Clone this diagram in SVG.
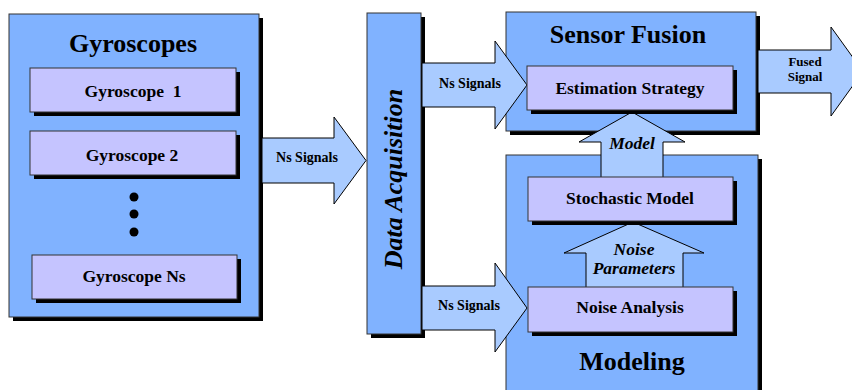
<svg xmlns="http://www.w3.org/2000/svg" width="852" height="390" viewBox="0 0 852 390">
<style>
.big{fill:#80b2ff;stroke:#333;stroke-width:1}
.inner{fill:#c5c4ff;stroke:#333;stroke-width:1}
.sh{fill:#000}
.arr{fill:#a9cbff;stroke:#000;stroke-width:1;stroke-linejoin:miter}
text{font-family:'Liberation Serif','Times New Roman',serif;font-weight:bold;fill:#000;text-anchor:middle}
.title{font-size:26px}
.lbl{font-size:17.5px}
.sig{font-size:14px}
.sm{font-size:13px}
.it{font-style:italic}
</style>
<rect width="852" height="390" fill="#fff"/>

<g id="gyroscopes">
  <rect class="sh" x="13" y="18" width="250" height="303"/>
  <rect class="big" x="9" y="14" width="250" height="303"/>
  <text class="title" x="133" y="52">Gyroscopes</text>
</g>
<g id="gyro1">
  <rect class="sh" x="34" y="72" width="206" height="44"/>
  <rect class="inner" x="30" y="68" width="206" height="44"/>
  <text class="lbl" x="133" y="97" style="white-space:pre">Gyroscope  1</text>
</g>
<g id="gyro2">
  <rect class="sh" x="34" y="135" width="206" height="44"/>
  <rect class="inner" x="30" y="131" width="206" height="44"/>
  <text class="lbl" x="132" y="161">Gyroscope 2</text>
</g>
<g id="dots">
  <circle cx="134" cy="197" r="4.5"/>
  <circle cx="134" cy="214" r="4.5"/>
  <circle cx="134" cy="232" r="4.5"/>
</g>
<g id="gyroNs">
  <rect class="sh" x="36" y="259" width="205" height="44"/>
  <rect class="inner" x="32" y="255" width="205" height="44"/>
  <text class="lbl" x="134" y="282">Gyroscope Ns</text>
</g>

<g id="data-acquisition">
  <rect class="sh" x="371" y="17" width="54" height="321"/>
  <rect class="big" x="367" y="13" width="54" height="321"/>
  <text class="title it" transform="translate(402,179) rotate(-90)">Data Acquisition</text>
</g>

<g id="sensor-fusion">
  <rect class="sh" x="510" y="16" width="250" height="119"/>
  <rect class="big" x="506" y="12" width="250" height="119"/>
  <text class="title" x="628" y="43">Sensor Fusion</text>
</g>

<g id="modeling">
  <rect class="sh" x="510" y="159" width="252" height="240"/>
  <rect class="big" x="506" y="155" width="252" height="240"/>
  <text class="title" x="632" y="370">Modeling</text>
</g>

<g id="connectors">
  <g id="arrow-gyro-da">
    <path class="arr" d="M262,138 H334 V117 L366,160.5 L334,204 V183 H262 Z"/>
    <text class="sig" x="307" y="162">Ns Signals</text>
  </g>
  <g id="arrow-da-est">
    <path class="arr" d="M422,63 H495 V41 L527,85 L495,129 V107 H422 Z"/>
    <text class="sig" x="470" y="88">Ns Signals</text>
  </g>
  <g id="arrow-da-noise">
    <path class="arr" d="M422,286 H495 V263 L527,308 L495,352 V330 H422 Z"/>
    <text class="sig" x="469" y="310">Ns Signals</text>
  </g>
  <g id="arrow-fused">
    <path class="arr" d="M758,50 H831 V27 L863,71.5 L831,116 V93 H758 Z"/>
    <text class="sig sm" x="805" y="66">Fused</text>
    <text class="sig sm" x="805" y="81">Signal</text>
  </g>
  <g id="arrow-model">
    <path class="arr" d="M601,177 V142 H579 L632,112 L685,142 H663 V177"/>
    <text class="lbl it" x="632" y="149">Model</text>
  </g>
  <g id="arrow-noise-params">
    <path class="arr" d="M586,287 V253 H564 L633,222 L704,253 H683 V287"/>
    <text class="lbl it" x="634" y="255">Noise</text>
    <text class="lbl it" x="634" y="274">Parameters</text>
  </g>
</g>

<g id="estimation">
  <rect class="sh" x="531" y="70" width="206" height="44"/>
  <rect class="inner" x="527" y="66" width="206" height="44"/>
  <text class="lbl" x="630" y="94">Estimation Strategy</text>
</g>
<g id="stochastic">
  <rect class="sh" x="532" y="181" width="205" height="44"/>
  <rect class="inner" x="528" y="177" width="205" height="44"/>
  <text class="lbl" x="630" y="204">Stochastic Model</text>
</g>
<g id="noise-analysis">
  <rect class="sh" x="532" y="291" width="205" height="45"/>
  <rect class="inner" x="528" y="287" width="205" height="45"/>
  <text class="lbl" x="630" y="313">Noise Analysis</text>
</g>
</svg>
